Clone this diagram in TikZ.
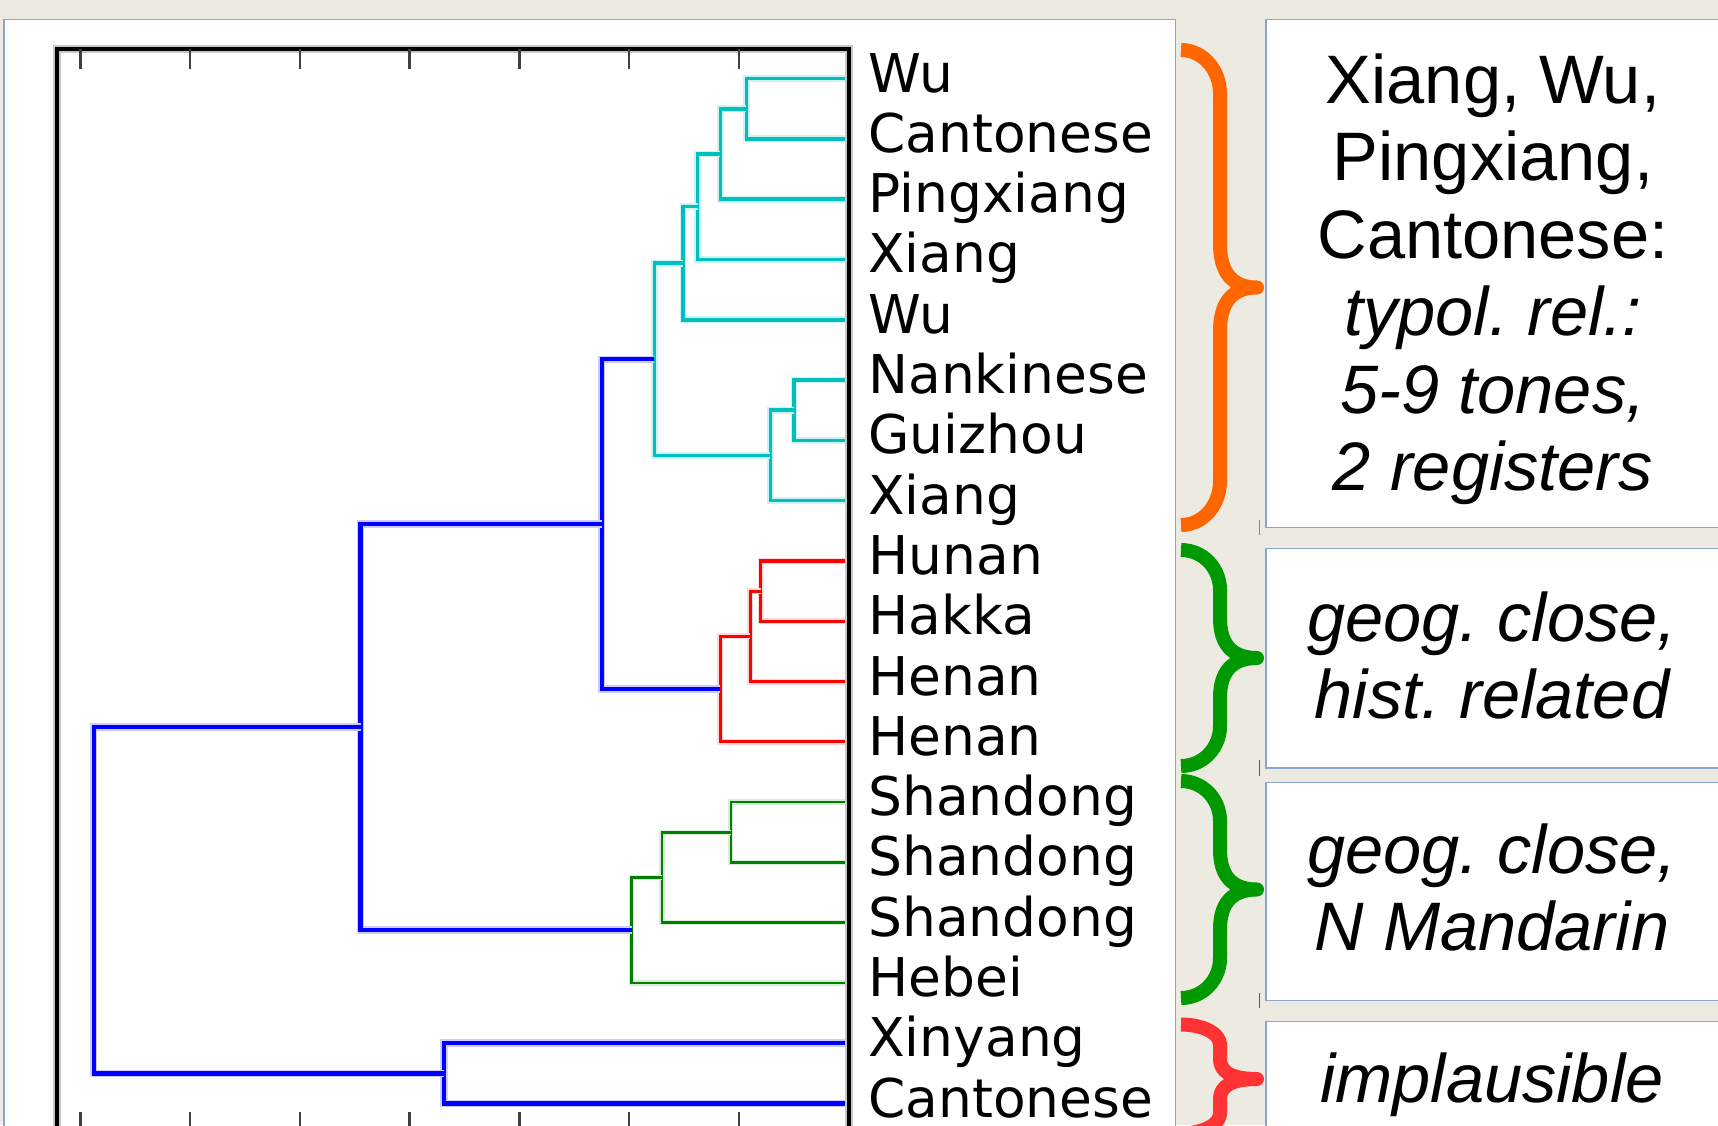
\documentclass[tikz,border=0pt]{standalone}
\usepackage{fontspec}
\newfontfamily\leaffont{DejaVu Sans}
\newfontfamily\notefont{Liberation Sans}
\frenchspacing
\definecolor{deskbg}{RGB}{237,235,225}
\definecolor{edgeblue}{RGB}{140,165,205}
\definecolor{dcyan}{RGB}{0,191,191}
\definecolor{dgreen}{RGB}{0,128,0}
\definecolor{braceorange}{RGB}{255,102,0}
\definecolor{bracegreen}{RGB}{0,153,0}
\definecolor{bracered}{RGB}{255,51,51}
\tikzset{
  cyanlink/.style={draw=dcyan, line width=1.8pt, preaction={draw=dcyan!20, line width=3.4pt}},
  redlink/.style={draw=red, line width=1.6pt, preaction={draw=red!15, line width=3pt}},
  greenlink/.style={draw=dgreen, line width=1.3pt, preaction={draw=dgreen!15, line width=2.6pt}},
  bluelink/.style={draw=blue, line width=2.1pt, preaction={draw=blue!20, line width=3.8pt}},
  tick/.style={draw=black!75, line width=1.2pt},
  leaf/.style={anchor=base west, inner sep=0pt, font=\leaffont\fontsize{26.7}{30}\selectfont},
  note/.style={align=center, inner sep=0pt, font=\notefont\fontsize{34.3}{38.75}\selectfont},
  notei/.style={note, font=\notefont\fontsize{34.3}{38.75}\selectfont\itshape},
  boxedge/.style={draw=edgeblue, line width=0.7pt, fill=white},
}
% brace: colour, top, tip, bottom, curl
\newcommand\curlybrace[5]{%
  \draw[#1, line width=7pt, line join=round]
    (1181,#2) .. controls (1203,#2) and (1220,{#2+0.45*#5}) .. (1220,{#2+#5})
    -- (1220,{#3-#5}) .. controls (1220,{#3-0.4*#5}) and (1230,#3) .. (1257,#3)
    .. controls (1230,#3) and (1220,{#3+0.4*#5}) .. (1220,{#3+#5})
    -- (1220,{#4-#5}) .. controls (1220,{#4-0.45*#5}) and (1203,#4) .. (1181,#4);
}
\begin{document}
\begin{tikzpicture}[x=0.5pt, y=-0.5pt]
\useasboundingbox (0,0) rectangle (1718,1125);
\clip (0,0) rectangle (1718,1125);
\fill[deskbg] (0,0) rectangle (1718,1125);
\draw[boxedge] (4,19.6) rectangle (1175.6,1140);

% leaves
\foreach \name [count=\i from 0] in {Wu,Cantonese,Pingxiang,Xiang,Wu,Nankinese,Guizhou,Xiang,Hunan,Hakka,Henan,Henan,Shandong,Shandong,Shandong,Hebei,Xinyang,Cantonese} {
  \coordinate (w\i) at (849,{78.6+60.29*\i});
  \node[leaf] (n\i) at (868,{92.1+60.29*\i}) {\name};
}

% cyan cluster
\coordinate (c1) at (746.3,108.8);
\coordinate (c2) at (720.4,154.0);
\coordinate (c3) at (697.5,206.6);
\coordinate (c4) at (683.0,263.2);
\coordinate (c5) at (794.0,410.2);
\coordinate (c6) at (770.4,455.4);
\coordinate (c7) at (654.4,359.3);
\draw[cyanlink] (w0) -| (c1) |- (w1);
\draw[cyanlink] (c1) -| (c2) |- (w2);
\draw[cyanlink] (c2) -| (c3) |- (w3);
\draw[cyanlink] (c3) -| (c4) |- (w4);
\draw[cyanlink] (w5) -| (c5) |- (w6);
\draw[cyanlink] (c5) -| (c6) |- (w7);
\draw[cyanlink] (c4) -| (c7) |- (c6);

% red cluster
\coordinate (h1) at (760.6,591.1);
\coordinate (h2) at (750.3,636.3);
\coordinate (h3) at (720.4,689.0);
\draw[redlink] (w8) -| (h1) |- (w9);
\draw[redlink] (h1) -| (h2) |- (w10);
\draw[redlink] (h2) -| (h3) |- (w11);

% green cluster
\coordinate (g1) at (730.8,832.3);
\coordinate (g2) at (661.9,877.5);
\coordinate (g3) at (631.5,930.2);
\draw[greenlink] (w12) -| (g1) |- (w13);
\draw[greenlink] (g1) -| (g2) |- (w14);
\draw[greenlink] (g2) -| (g3) |- (w15);

% upper links
\coordinate (b1) at (601.6,524.2);
\coordinate (b2) at (360.5,727.2);
\coordinate (b3) at (443.7,1073.5);
\coordinate (b4) at (93.6,900.3);
\draw[bluelink] (c7) -| (b1) |- (h3);
\draw[bluelink] (b1) -| (b2) |- (g3);
\draw[bluelink] (w16) -| (b3) |- (w17);
\draw[bluelink] (b2) -| (b4) |- (b3);

% axes frame
\draw[black, line width=2pt, preaction={draw=black!22, line width=4pt}] (57,49) rectangle (849,1132);
\foreach \k in {0,...,6} {
  \draw[tick] ({80.4+109.73*\k},49) -- +(0,20);
  \draw[tick] ({80.4+109.73*\k},1132) -- +(0,-20);
}

% braces
\curlybrace{braceorange}{50}{287.5}{525}{44}
\curlybrace{bracegreen}{550}{658}{766}{40}
\curlybrace{bracegreen}{781}{889.5}{998}{40}
\curlybrace{bracered}{1024.5}{1079}{1133.5}{20}
\draw[braceorange, line width=0.5pt] (1259.5,520) -- (1259.5,535);
\draw[bracegreen, line width=0.5pt] (1259.5,760) -- (1259.5,776);
\draw[bracegreen, line width=0.5pt] (1259.5,993) -- (1259.5,1008);

% notes
\draw[boxedge] (1266,19.6) rectangle (1720,527.3);
\draw[boxedge] (1266,548.7) rectangle (1720,768);
\draw[boxedge] (1266,782.3) rectangle (1720,1000.4);
\draw[boxedge] (1266,1021.5) rectangle (1720,1140);
\node[note] (t1) at (1493,279.5) {Xiang, Wu,\\Pingxiang,\\Cantonese:\\\textit{typol. rel.:}\\\textit{5-9 tones,}\\\textit{2 registers}};
\node[notei] (t2) at (1492,655.3) {geog. close,\\hist. related};
\node[notei] (t3) at (1492,887.7) {geog. close,\\N Mandarin};
\node[notei] (t4) at (1492,1084.9) {implausible};
\end{tikzpicture}
\end{document}
